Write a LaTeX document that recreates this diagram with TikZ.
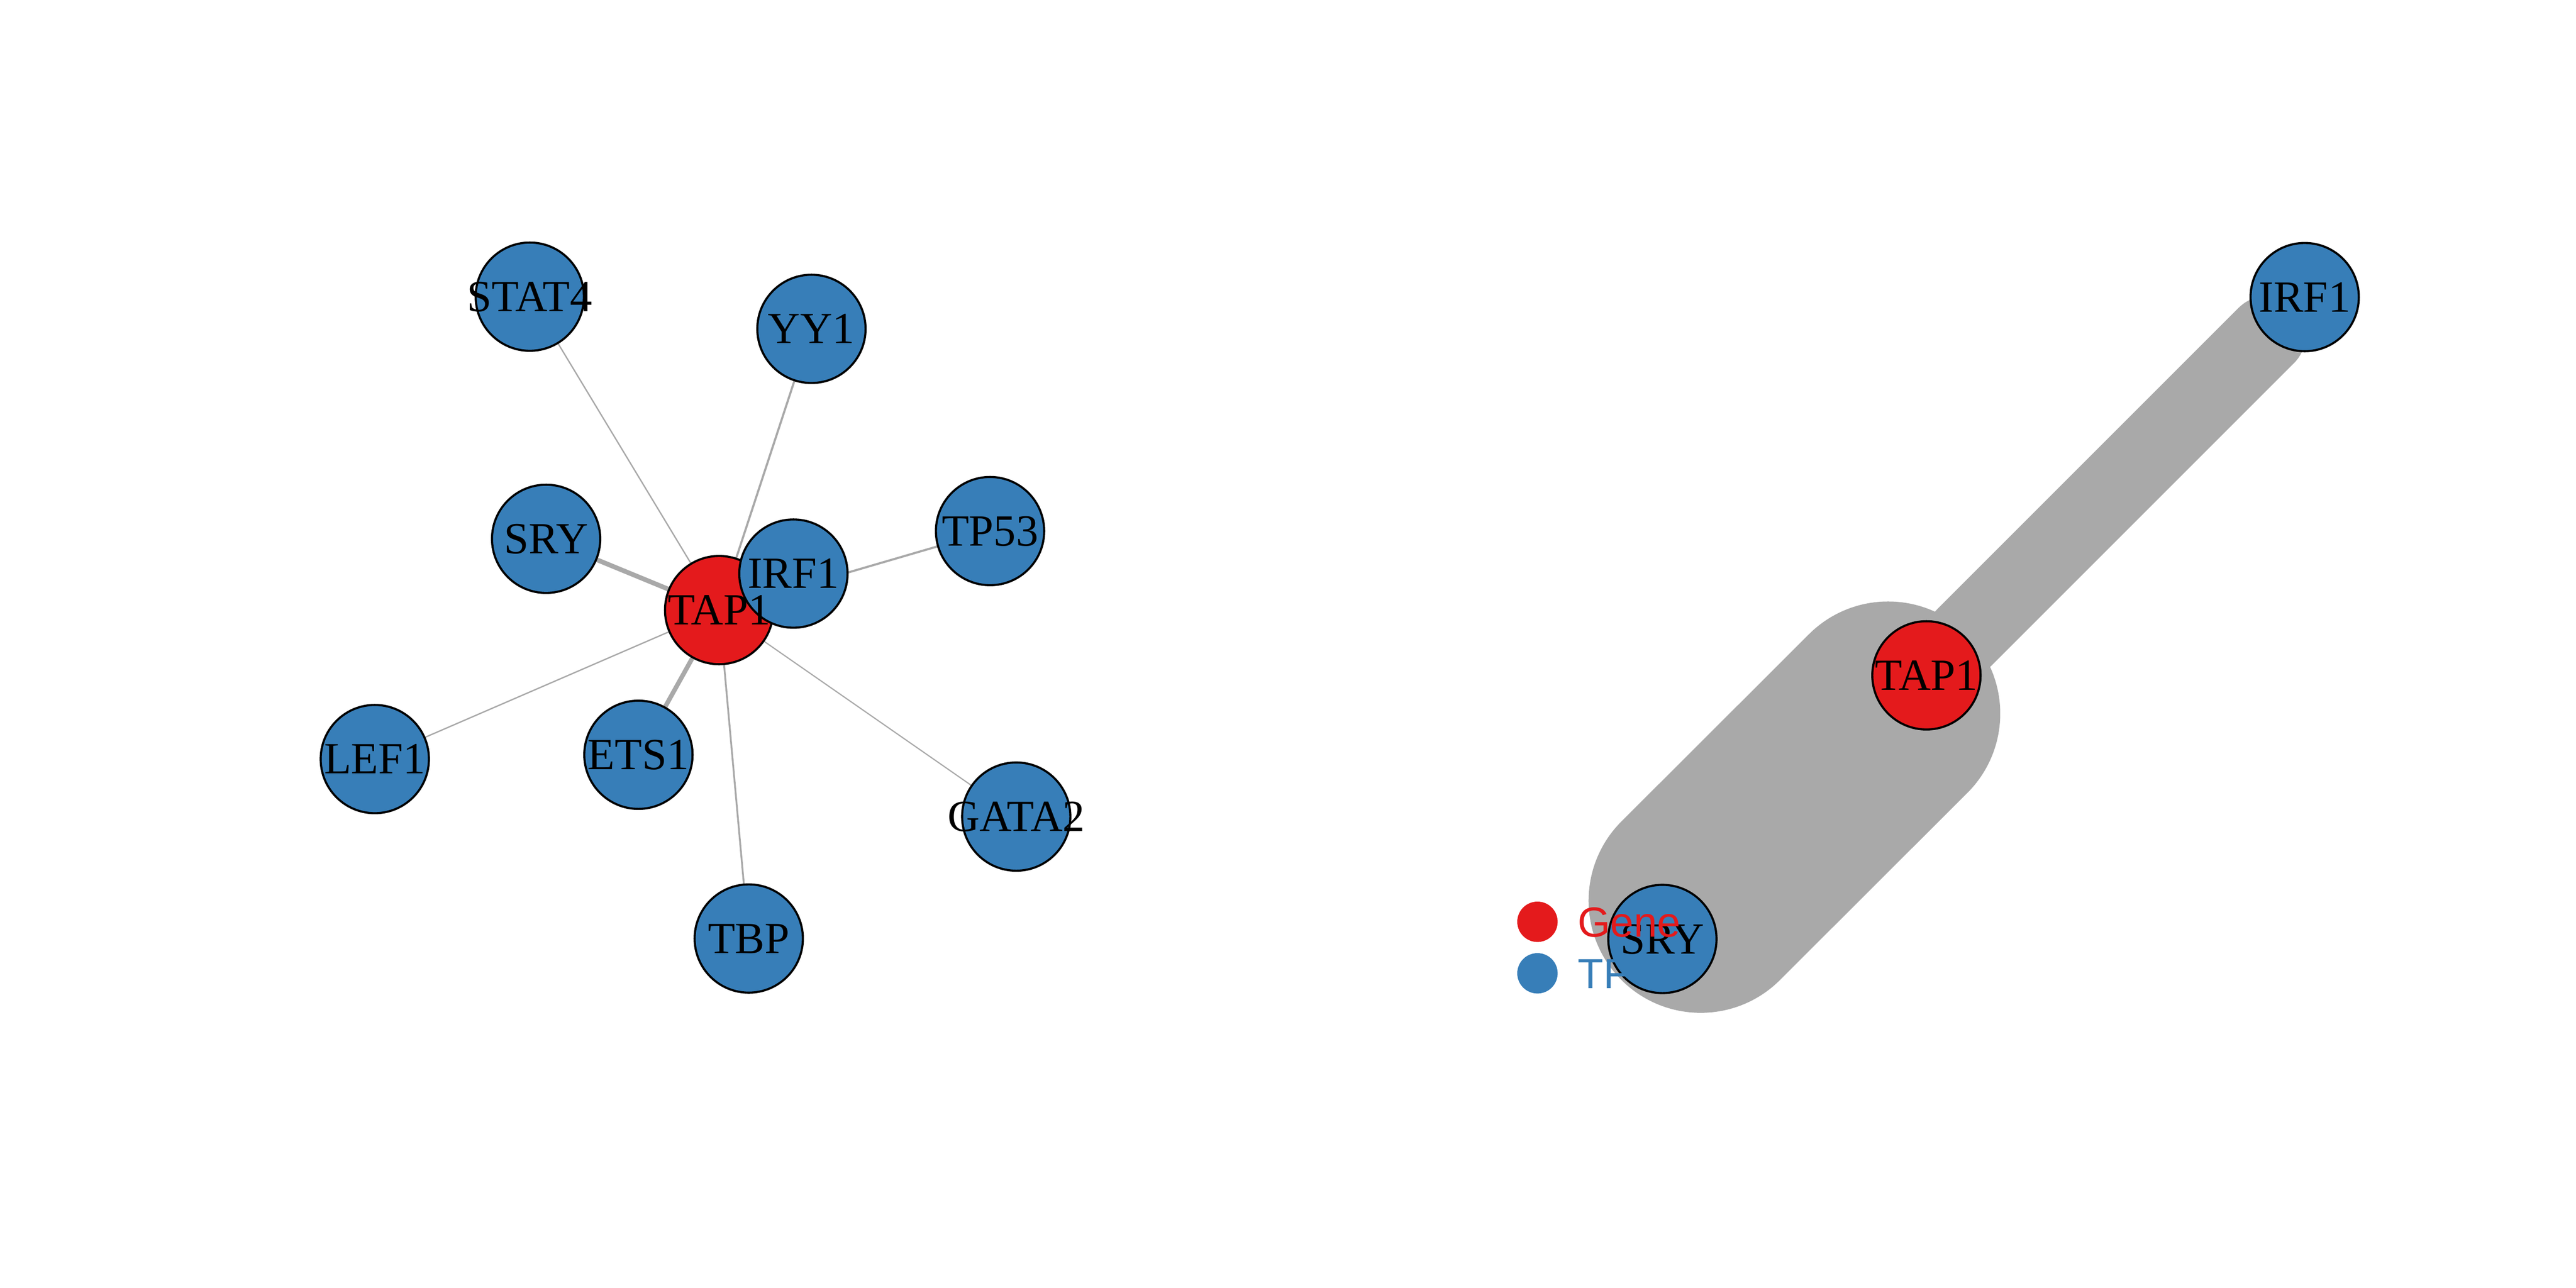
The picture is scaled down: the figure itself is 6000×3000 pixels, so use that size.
\documentclass[tikz,border=0pt]{standalone}
\usepackage{fontspec}
\setmainfont{Liberation Serif}
\setsansfont{Liberation Sans}
\usetikzlibrary{backgrounds}
\definecolor{genered}{HTML}{E41A1C}
\definecolor{tfblue}{HTML}{377EB8}
\definecolor{linkgray}{HTML}{A9A9A9}
\tikzset{
    vtx/.style={circle,draw=black,line width=1.4pt,minimum size=2.52cm,inner sep=0pt,outer sep=0pt},
    gene/.style={vtx,fill=genered},
    tf/.style={vtx,fill=tfblue},
    lbl/.style={inner sep=0pt,text height=19.5pt,text depth=0pt,font=\fontsize{29.5}{32}\selectfont},
    link/.style={draw=linkgray,line cap=round},
    legdot/.style={circle,inner sep=0pt,minimum size=0.94cm},
    legtext/.style={anchor=west,inner sep=0pt,text height=20pt,text depth=0pt,font=\sffamily\fontsize{27.9}{30}\selectfont}
}
\begin{document}
\begin{tikzpicture}[x=0.01cm,y=-0.01cm]
    \useasboundingbox (0,0) rectangle (6000,3000);
    %% Left network
    \node[gene] (tapA) at (1675,1421) {};
    \foreach \n/\x/\y in {stat4A/1234/691,yy1A/1890/766,sryA/1272/1255,irf1A/1848/1336,
        tp53A/2306/1237,lef1A/873/1768,ets1A/1487/1758,gata2A/2367/1902,tbpA/1744/2186}
        \node[tf] (\n) at (\x,\y) {};
    \begin{pgfonlayer}{background}
        \foreach \n/\w in {stat4A/0.9,lef1A/0.9,gata2A/0.8,yy1A/1.4,tbpA/1.2,
            tp53A/1.4,irf1A/1.4,sryA/3.1,ets1A/3.0}
            \draw[link,line width=\w pt] (tapA) -- (\n);
    \end{pgfonlayer}
    \foreach \n/\t in {tapA/TAP1,stat4A/STAT4,yy1A/YY1,sryA/SRY,irf1A/IRF1,
        tp53A/TP53,lef1A/LEF1,ets1A/ETS1,gata2A/GATA2,tbpA/TBP}
        \node[lbl] (\n-t) at (\n) {\t};
    %% Right network
    \node[gene] (tapB) at (4487,1573) {};
    \node[tf] (irf1B) at (5368,692) {};
    \node[tf] (sryB) at (3872,2187) {};
    \begin{pgfonlayer}{background}
        \draw[link,line width=148.5pt] (tapB) -- (sryB);
        \draw[link,line width=51.8pt] (tapB) -- (irf1B);
    \end{pgfonlayer}
    \foreach \n/\t in {tapB/TAP1,irf1B/IRF1,sryB/SRY}
        \node[lbl] (\n-t) at (\n) {\t};
    %% Legend
    \node[legdot,fill=genered] (geneDot) at (3581,2147) {};
    \node[legdot,fill=tfblue] (tfDot) at (3581,2267) {};
    \node[legtext,text=genered] (geneKey) at (3674,2147) {Gene};
    \node[legtext,text=tfblue] (tfKey) at (3674,2267) {TF};
\end{tikzpicture}
\end{document}
